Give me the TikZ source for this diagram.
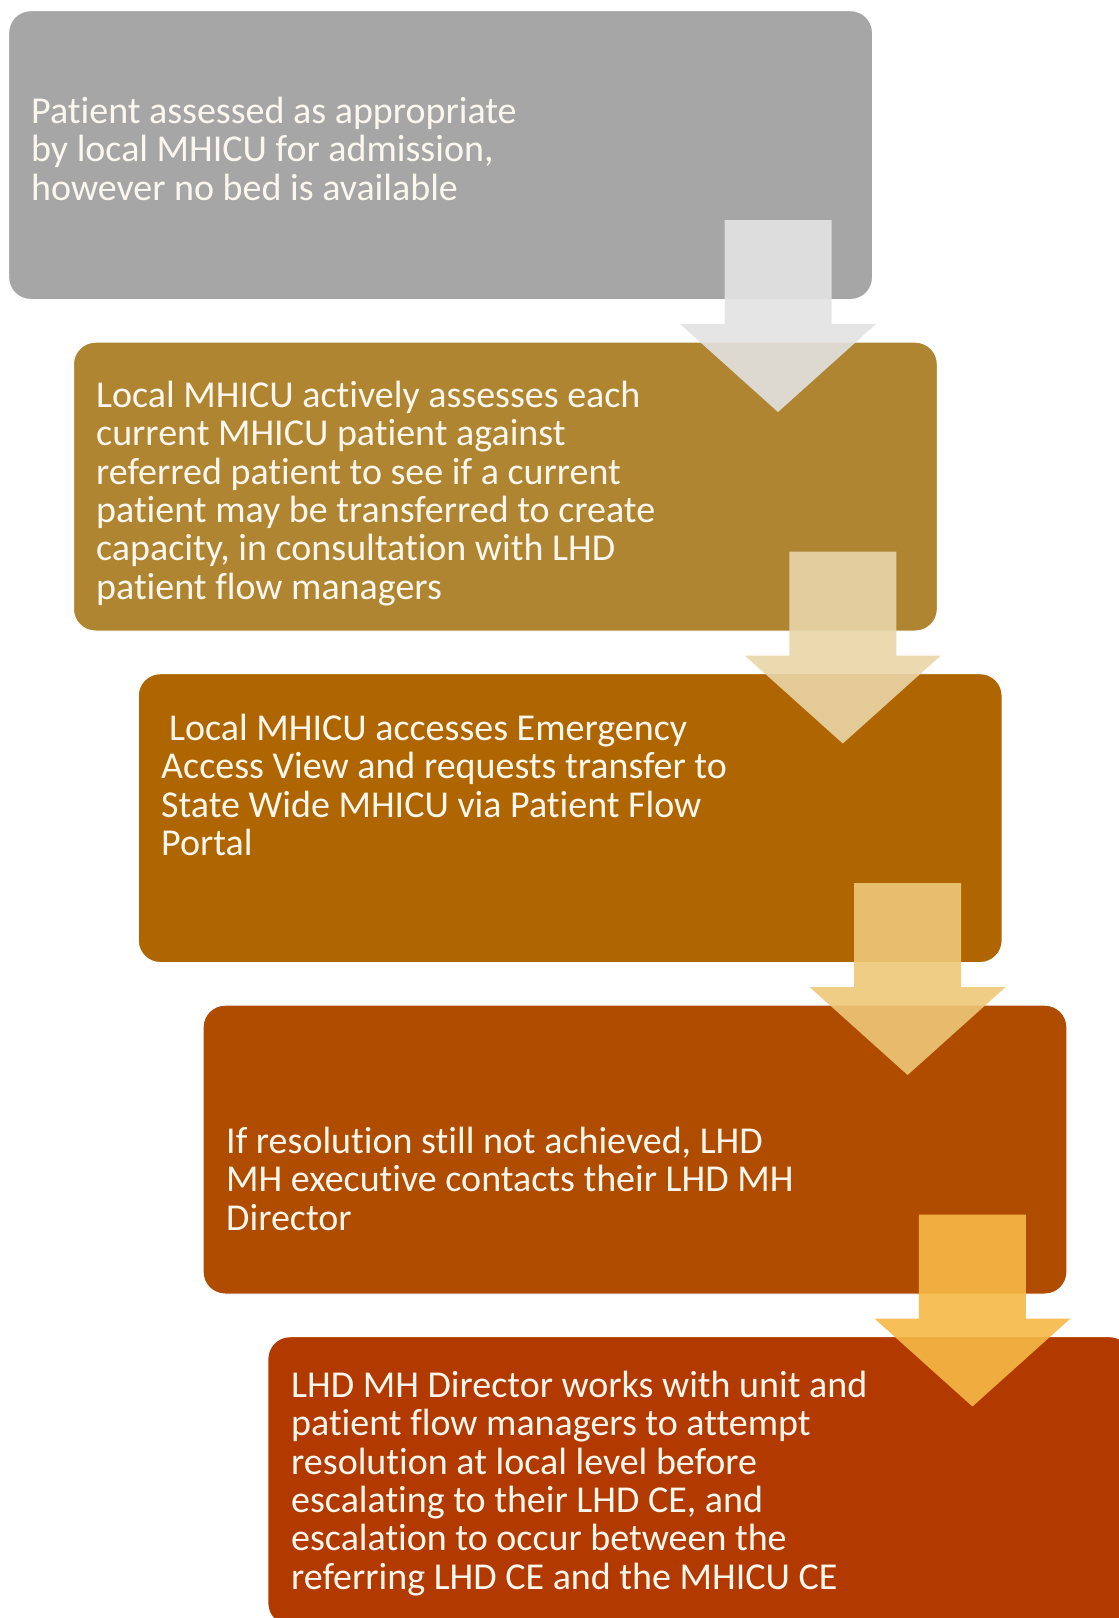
\documentclass[tikz,border=0pt]{standalone}
\usepackage{fontspec}
\setmainfont{Carlito}[Ligatures={NoCommon,NoRare}]
\definecolor{boxA}{HTML}{A6A6A6}
\definecolor{boxB}{HTML}{AF8532}
\definecolor{boxC}{HTML}{AF6600}
\definecolor{boxD}{HTML}{AF4C00}
\definecolor{boxE}{HTML}{B23A00}
\definecolor{arrA}{HTML}{E3E3E3}
\definecolor{arrB}{HTML}{E9D5A8}
\definecolor{arrC}{HTML}{EEC877}
\definecolor{arrD}{HTML}{F6B946}
\definecolor{textcol}{HTML}{FCF7EE}
% first-line strut: the text node's top lies 30pt above its first baseline
\newcommand{\firststrut}{\rule{0pt}{30pt}}
\begin{document}
\begin{tikzpicture}[x=1pt,y=-1pt,
  stepbox/.style={rounded corners=22pt, draw=white, line width=1.2pt,
    minimum width=864pt, minimum height=289pt, anchor=north west, inner sep=0pt},
  steptext/.style={anchor=north west, inner sep=0pt, align=left, text=textcol,
    font=\fontsize{38}{38.4}\selectfont},
  pics/downarrow/.style={code={
    \fill (-53.5,0) -- (53.5,0) -- (53.5,104) -- (98,104) -- (0,192)
          -- (-98,104) -- (-53.5,104) -- cycle;
  }},
  arrowstyle/.style={fill opacity=0.9}
]
\useasboundingbox (0,0) rectangle (1119,1618);
\clip (0,0) rectangle (1119,1618);
\fill[white] (0,0) rectangle (1119,1618);

% step boxes
\node[stepbox, fill=boxA] (b1) at (8,10) {};
\node[stepbox, fill=boxB] (b2) at (72.8,341.5) {};
\node[stepbox, fill=boxC] (b3) at (137.6,673) {};
\node[stepbox, fill=boxD] (b4) at (202.4,1004.5) {};
\node[stepbox, fill=boxE] (b5) at (267.2,1336) {};

% step texts (placed 30pt above the first baseline)
\node[steptext] (t1) at (31,93) {\firststrut Patient assessed as appropriate\\by local MHICU for admission,\\however no bed is available};
\node[steptext] (t2) at (96,377) {\firststrut Local MHICU actively assesses each\\current MHICU patient against\\referred patient to see if a current\\patient may be transferred to create\\capacity, in consultation with LHD\\patient flow managers};
\node[steptext] (t3) at (161,710) {\firststrut\hspace*{8pt}Local MHICU accesses Emergency\\Access View and requests transfer to\\State Wide MHICU via Patient Flow\\Portal};
\node[steptext] (t4) at (226,1123) {\firststrut If resolution still not achieved, LHD\\MH executive contacts their LHD MH\\Director};
\node[steptext] (t5) at (291,1367) {\firststrut LHD MH Director works with unit and\\patient flow managers to attempt\\resolution at local level before\\escalating to their LHD CE, and\\escalation to occur between the\\referring LHD CE and the MHICU CE};

% block arrows between the steps
\coordinate (a1) at (778,220);
\coordinate (a2) at (842.8,551.5);
\coordinate (a3) at (907.6,883);
\coordinate (a4) at (972.4,1214.5);
\pic[arrowstyle, fill=arrA] at (a1) {downarrow};
\pic[arrowstyle, fill=arrB] at (a2) {downarrow};
\pic[arrowstyle, fill=arrC] at (a3) {downarrow};
\pic[arrowstyle, fill=arrD] at (a4) {downarrow};
\end{tikzpicture}
\end{document}
